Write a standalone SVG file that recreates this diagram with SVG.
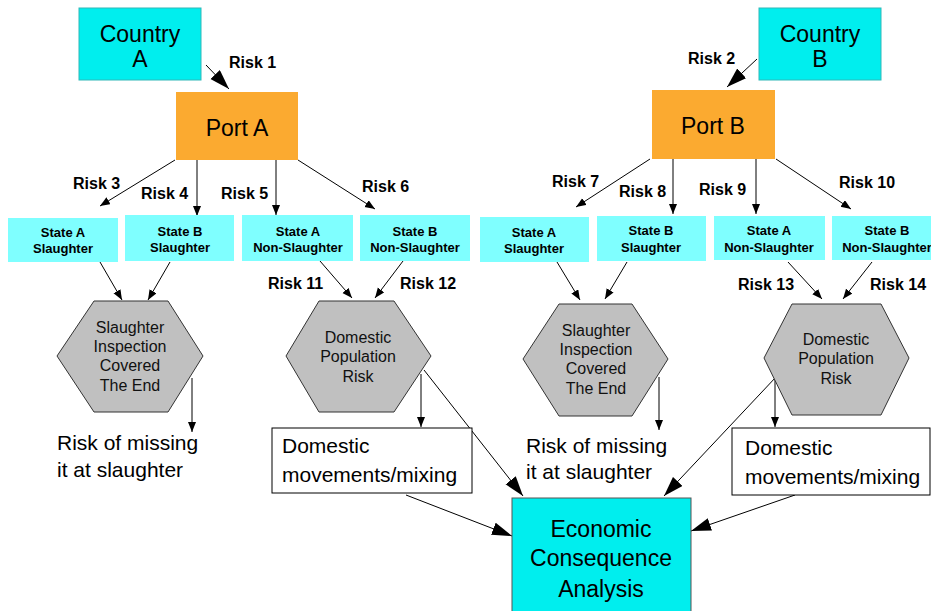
<svg xmlns="http://www.w3.org/2000/svg" width="931" height="611" viewBox="0 0 931 611">
<defs>
<marker id="big" markerUnits="userSpaceOnUse" markerWidth="22" markerHeight="14" refX="20" refY="6.5" orient="auto"><path d="M0,0 L20,6.5 L0,13 Z" fill="#000"/></marker>
<marker id="sm" markerUnits="userSpaceOnUse" markerWidth="12" markerHeight="10" refX="10" refY="4" orient="auto"><path d="M0,0 L10,4 L0,8 Z" fill="#000"/></marker>
<style>
text{font-family:"Liberation Sans",Arial,sans-serif;fill:#000}
.country{fill:#00eeee;stroke:#30b8b8;stroke-width:1}
.port{fill:#fbaa30}
.state{fill:#7fffff}
.hex{fill:#c0c0c0;stroke:#333;stroke-width:1}
.white{fill:#fff;stroke:#000;stroke-width:1}
.econ{fill:#00eeee;stroke:#555;stroke-width:1}
.t23{font-size:23px;text-anchor:middle}
.risk{font-size:16px;font-weight:bold}
.st{font-size:13px;font-weight:bold;text-anchor:middle}
.hx{font-size:16px;text-anchor:middle;fill:#111}
.t21{font-size:21px}
.c{stroke:#000;stroke-width:1;fill:none}
.s{marker-end:url(#sm)}
.b{marker-end:url(#big)}
</style>
</defs>
<g id="connectors">
<path class="c b" d="M206,65 L229,89"/>
<path class="c b" d="M757,59 L727,87"/>
<path class="c s" d="M175,160 L100,206"/>
<path class="c s" d="M197,160 L197,216"/>
<path class="c s" d="M276,160 L276,215"/>
<path class="c s" d="M298,160 L375,209"/>
<path class="c s" d="M650,159 L576,207"/>
<path class="c s" d="M673,159 L673,214"/>
<path class="c s" d="M756,159 L756,214"/>
<path class="c s" d="M776,159 L851,209"/>
<path class="c s" d="M100,262 L122,300"/>
<path class="c s" d="M170,262 L148,300"/>
<path class="c s" d="M320,261 L352,298"/>
<path class="c s" d="M403,261 L375,298"/>
<path class="c s" d="M557,262 L580,300"/>
<path class="c s" d="M627,262 L605,299"/>
<path class="c s" d="M788,262 L822,299"/>
<path class="c s" d="M872,262 L843,299"/>
<path class="c s" d="M192,378 L192,432"/>
<path class="c s" d="M421,374 L421,427"/>
<path class="c s" d="M659,377 L659,430"/>
<path class="c s" d="M775,380 L775,427"/>
<path class="c b" d="M424,370 L523,496"/>
<path class="c b" d="M776,377 L664,496"/>
<path class="c b" d="M406,495 L512,536"/>
<path class="c b" d="M795,495 L691,531"/>
</g>
<g id="countryA"><rect class="country" x="79" y="8" width="122" height="72"/><text class="t23" x="140" y="42">Country</text><text class="t23" x="140" y="67">A</text></g>
<g id="countryB"><rect class="country" x="759" y="8" width="122" height="72"/><text class="t23" x="820" y="42">Country</text><text class="t23" x="820" y="67">B</text></g>
<g id="portA"><rect class="port" x="176" y="92" width="122" height="68"/><text class="t23" x="237" y="136">Port A</text></g>
<g id="portB"><rect class="port" x="652" y="90" width="123" height="69"/><text class="t23" x="713" y="134">Port B</text></g>
<g id="riskLabels">
<text class="risk" x="229" y="68">Risk 1</text>
<text class="risk" x="688" y="64">Risk 2</text>
<text class="risk" x="73" y="189">Risk 3</text>
<text class="risk" x="141" y="199">Risk 4</text>
<text class="risk" x="221" y="199">Risk 5</text>
<text class="risk" x="362" y="192">Risk 6</text>
<text class="risk" x="552" y="187">Risk 7</text>
<text class="risk" x="619" y="197">Risk 8</text>
<text class="risk" x="699" y="195">Risk 9</text>
<text class="risk" x="839" y="188">Risk 10</text>
<text class="risk" x="268" y="289">Risk 11</text>
<text class="risk" x="400" y="289">Risk 12</text>
<text class="risk" x="738" y="290">Risk 13</text>
<text class="risk" x="870" y="290">Risk 14</text>
</g>
<g id="stateASlaughterA"><rect class="state" x="8" y="218" width="110" height="44"/><text class="st" x="63" y="237">State A</text><text class="st" x="63" y="253">Slaughter</text></g>
<g id="stateBSlaughterA"><rect class="state" x="125" y="215" width="109" height="46"/><text class="st" x="180" y="236">State B</text><text class="st" x="180" y="252">Slaughter</text></g>
<g id="stateANonA"><rect class="state" x="242" y="215" width="111" height="46"/><text class="st" x="298" y="236">State A</text><text class="st" x="298" y="252">Non-Slaughter</text></g>
<g id="stateBNonA"><rect class="state" x="360" y="215" width="110" height="46"/><text class="st" x="415" y="236">State B</text><text class="st" x="415" y="252">Non-Slaughter</text></g>
<g id="stateASlaughterB"><rect class="state" x="480" y="217" width="109" height="45"/><text class="st" x="534" y="237">State A</text><text class="st" x="534" y="253">Slaughter</text></g>
<g id="stateBSlaughterB"><rect class="state" x="597" y="216" width="109" height="45"/><text class="st" x="651" y="235">State B</text><text class="st" x="651" y="252">Slaughter</text></g>
<g id="stateANonB"><rect class="state" x="714" y="216" width="111" height="44"/><text class="st" x="769" y="235">State A</text><text class="st" x="769" y="252">Non-Slaughter</text></g>
<g id="stateBNonB"><rect class="state" x="832" y="216" width="110" height="44"/><text class="st" x="887" y="235">State B</text><text class="st" x="887" y="252">Non-Slaughter</text></g>
<g id="hexSlaughterA"><polygon class="hex" points="57,356 94,301 168,301 203,356 168,412 94,412"/><text class="hx" x="130" y="333">Slaughter</text><text class="hx" x="130" y="352">Inspection</text><text class="hx" x="130" y="371">Covered</text><text class="hx" x="130" y="391">The End</text></g>
<g id="hexDomesticA"><polygon class="hex" points="286,356 319,301 394,301 431,356 394,412 319,412"/><text class="hx" x="358" y="343">Domestic</text><text class="hx" x="358" y="362">Population</text><text class="hx" x="358" y="382">Risk</text></g>
<g id="hexSlaughterB"><polygon class="hex" points="523,359 559,304 632,304 668,359 632,416 559,416"/><text class="hx" x="596" y="336">Slaughter</text><text class="hx" x="596" y="355">Inspection</text><text class="hx" x="596" y="374">Covered</text><text class="hx" x="596" y="394">The End</text></g>
<g id="hexDomesticB"><polygon class="hex" points="764,358 792,304 881,304 909,358 881,415 792,415"/><text class="hx" x="836" y="345">Domestic</text><text class="hx" x="836" y="364">Population</text><text class="hx" x="836" y="384">Risk</text></g>
<g id="missA"><text class="t21" x="57" y="450">Risk of missing</text><text class="t21" x="57" y="477">it at slaughter</text></g>
<g id="missB"><text class="t21" x="526" y="453">Risk of missing</text><text class="t21" x="526" y="479">it at slaughter</text></g>
<g id="movesA"><rect class="white" x="272" y="428" width="200" height="65"/><text class="t21" x="282" y="453">Domestic</text><text class="t21" x="282" y="482">movements/mixing</text></g>
<g id="movesB"><rect class="white" x="732" y="428" width="198" height="67"/><text class="t21" x="745" y="455">Domestic</text><text class="t21" x="745" y="484">movements/mixing</text></g>
<g id="economic"><rect class="econ" x="512" y="498" width="179" height="120"/><text class="t23" x="601" y="537">Economic</text><text class="t23" x="601" y="566">Consequence</text><text class="t23" x="601" y="597">Analysis</text></g>
</svg>
